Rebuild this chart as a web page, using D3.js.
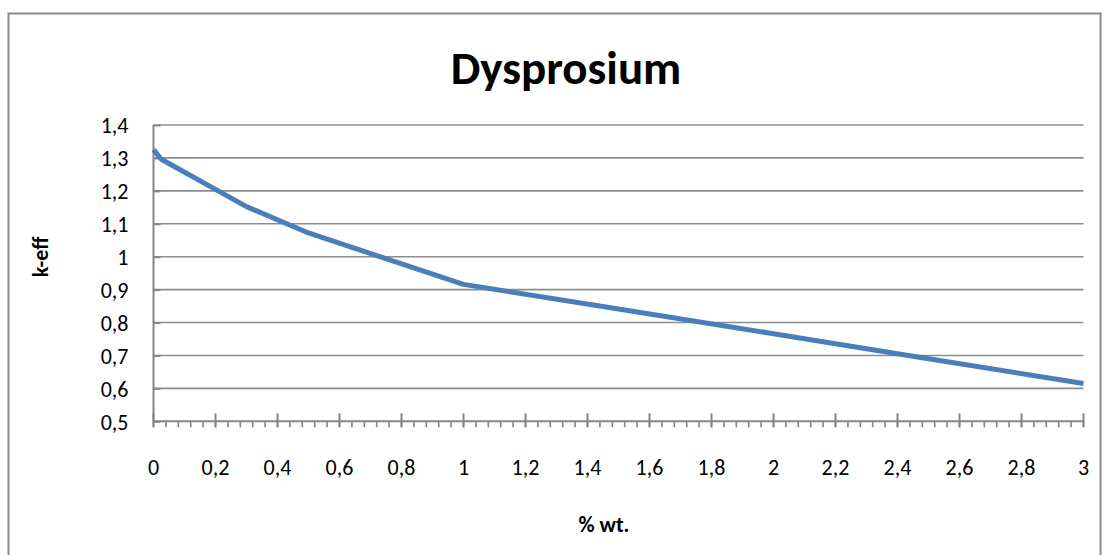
<!DOCTYPE html>
<html><head><meta charset="utf-8">
<script src="https://cdn.jsdelivr.net/npm/d3@7/dist/d3.min.js"></script>
<style>body{margin:0;background:#fff;} svg{display:block;}</style>
</head><body>
<svg id="c" width="1104" height="555"></svg>
<script>
const titleText = "Dysprosium";
const xTitle = "% wt.";
const yTitle = "k-eff";
const xValues = [0, 0.025, 0.3, 0.5, 1, 1.5, 2, 2.5, 3];
const keff = [1.325, 1.296, 1.152, 1.072, 0.916, 0.841, 0.766, 0.69, 0.615];
const yTicks = [0.5, 0.6, 0.7, 0.8, 0.9, 1, 1.1, 1.2, 1.3, 1.4];
const xTicks = [0, 0.2, 0.4, 0.6, 0.8, 1, 1.2, 1.4, 1.6, 1.8, 2, 2.2, 2.4, 2.6, 2.8, 3];
const xMinor = d3.range(0, 76).map(i => +(i * 0.04).toFixed(2));

const svg = d3.select("#c");
const font = "Carlito, Calibri, Lato, 'Liberation Sans', sans-serif";
const fmt = d => String(d).replace(".", ",");

// frame
svg.append("rect").attr("x", 8.5).attr("y", 13.5).attr("width", 1092).attr("height", 560)
  .attr("fill", "none").attr("stroke", "#8a8a8a").attr("stroke-width", 2);

const x = d3.scaleLinear().domain([0, 3]).range([153.5, 1083.5]);
const y = d3.scaleLinear().domain([0.5, 1.4]).range([421.3, 125]);

// gridlines
svg.append("g").selectAll("line").data(yTicks.slice(1)).join("line")
  .attr("x1", x(0)).attr("x2", x(3)).attr("y1", d => y(d)).attr("y2", d => y(d))
  .attr("stroke", "#8c8c8c").attr("stroke-width", 1.6);

// y axis
const ya = svg.append("g").attr("transform", `translate(${x(0)},0)`)
  .call(d3.axisLeft(y).tickValues(yTicks).tickFormat(fmt).tickSize(-7).tickPadding(25));
ya.select(".domain").attr("stroke", "#868686").attr("stroke-width", 2).attr("d", `M0,${y(0.5)}V${y(1.4)}`);
ya.selectAll(".tick line").attr("stroke", "#868686").attr("stroke-width", 2);
ya.selectAll("text").attr("font-family", font).attr("font-size", 22).attr("fill", "#000").attr("dy", "0.35em");

// x axis
const xa = svg.append("g").attr("transform", `translate(0,${y(0.5)})`);
xa.append("line").attr("x1", x(0)).attr("x2", x(3)).attr("stroke", "#868686").attr("stroke-width", 2);
xa.selectAll(".minor").data(xMinor).join("line").attr("class", "minor")
  .attr("x1", d => x(d)).attr("x2", d => x(d)).attr("y1", 0).attr("y2", 6)
  .attr("stroke", "#868686").attr("stroke-width", 1.6);
xa.selectAll(".major").data(xTicks).join("line").attr("class", "major")
  .attr("x1", d => x(d)).attr("x2", d => x(d)).attr("y1", -8).attr("y2", 6)
  .attr("stroke", "#868686").attr("stroke-width", 2);
xa.selectAll("text").data(xTicks).join("text")
  .attr("x", d => x(d)).attr("y", 54).attr("text-anchor", "middle")
  .attr("font-family", font).attr("font-size", 22).text(fmt);

// line
svg.append("path").datum(xValues.map((v, i) => [v, keff[i]]))
  .attr("fill", "none").attr("stroke", "#4a7ebb").attr("stroke-width", 5)
  .attr("stroke-linejoin", "round")
  .attr("d", d3.line().x(d => x(d[0])).y(d => y(d[1])));

// titles
svg.append("text").attr("x", 566).attr("y", 84).attr("text-anchor", "middle")
  .attr("font-family", font).attr("font-weight", "bold").attr("font-size", 47).text(titleText);
svg.append("text").attr("x", 604).attr("y", 532).attr("text-anchor", "middle")
  .attr("font-family", font).attr("font-weight", "bold").attr("font-size", 22).text(xTitle);
svg.append("text").attr("transform", "translate(48,257) rotate(-90)").attr("text-anchor", "middle")
  .attr("font-family", font).attr("font-weight", "bold").attr("font-size", 22).text(yTitle);
</script>
</body></html>
